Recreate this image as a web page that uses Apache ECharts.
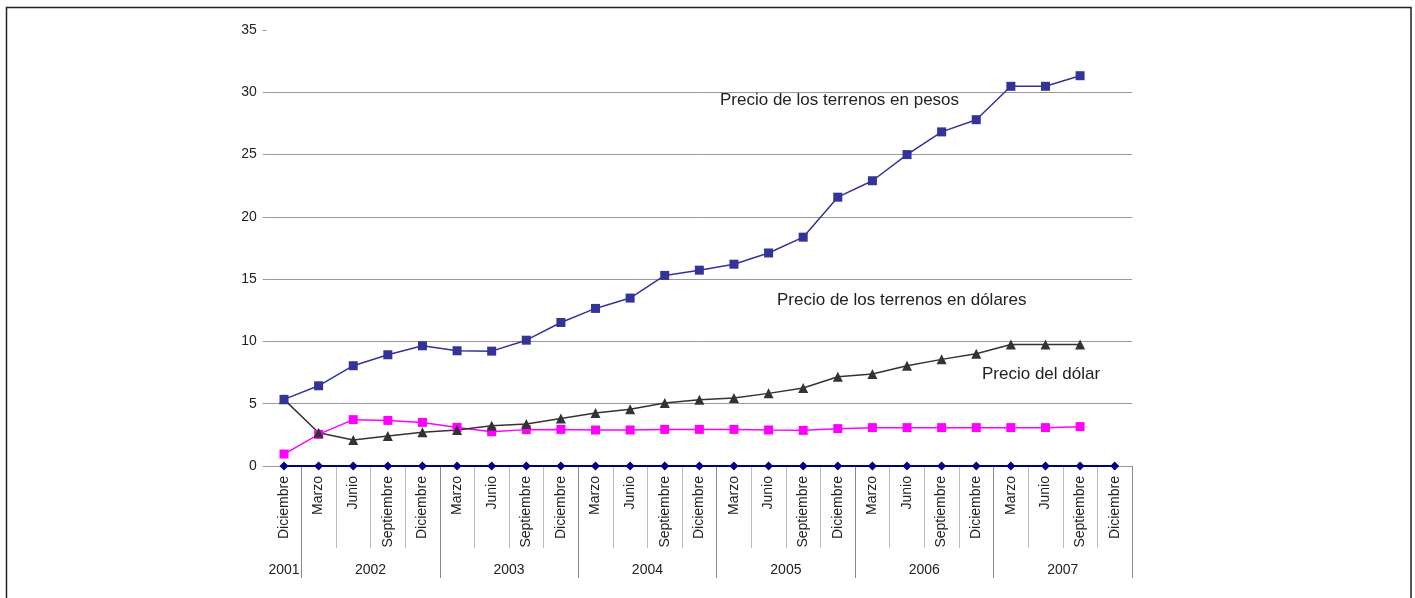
<!DOCTYPE html>
<html>
<head>
<meta charset="utf-8">
<script src="https://cdn.jsdelivr.net/npm/echarts@6/dist/echarts.min.js"></script>
<style>
  html, body { margin: 0; padding: 0; background: #fff; }
  #chart { width: 1415px; height: 598px; }
</style>
</head>
<body>
<div id="chart"></div>
<script>
// Trimestres (mes de cierre) de diciembre 2001 a diciembre 2007
const meses = [
  'Diciembre',
  'Marzo', 'Junio', 'Septiembre', 'Diciembre',
  'Marzo', 'Junio', 'Septiembre', 'Diciembre',
  'Marzo', 'Junio', 'Septiembre', 'Diciembre',
  'Marzo', 'Junio', 'Septiembre', 'Diciembre',
  'Marzo', 'Junio', 'Septiembre', 'Diciembre',
  'Marzo', 'Junio', 'Septiembre', 'Diciembre'
];
const anios = ['2001', '2002', '2003', '2004', '2005', '2006', '2007'];
const trimestresPorAnio = [1, 4, 4, 4, 4, 4, 4];
const marcasEjeY = [0, 5, 10, 15, 20, 25, 30, 35];

const precioTerrenosPesos = [
  5.35, 6.44, 8.05, 8.93, 9.65, 9.25, 9.22, 10.1, 11.52, 12.65, 13.48, 15.3,
  15.72, 16.2, 17.1, 18.37, 21.58, 22.9, 25.0, 26.82, 27.8, 30.48, 30.48, 31.33
];
const precioTerrenosDolares = [
  0.96, 2.54, 3.72, 3.66, 3.5, 3.1, 2.75, 2.92, 2.94, 2.89, 2.89, 2.94,
  2.94, 2.94, 2.89, 2.86, 3.0, 3.08, 3.08, 3.08, 3.08, 3.08, 3.08, 3.16
];
const precioDolar = [
  5.35, 2.67, 2.09, 2.41, 2.7, 2.89, 3.24, 3.37, 3.82, 4.25, 4.55, 5.05,
  5.32, 5.45, 5.83, 6.26, 7.17, 7.38, 8.05, 8.56, 9.01, 9.76, 9.76, 9.76
];
const lineaCero = [
  0, 0, 0, 0, 0, 0, 0, 0, 0, 0, 0, 0, 0, 0, 0, 0, 0, 0, 0, 0, 0, 0, 0, 0, 0
];

const etiquetas = [
  { texto: 'Precio de los terrenos en pesos', x: 720, y: 100.5 },
  { texto: 'Precio de los terrenos en dólares', x: 777, y: 300.5 },
  { texto: 'Precio del dólar', x: 982, y: 374 }
];

const fuente = '"Liberation Sans", Arial, Helvetica, sans-serif';

// Eje de años: medias posiciones de trimestre (2 por trimestre + 1)
const nMedios = meses.length * 2 + 1;
const ejeAnios = new Array(nMedios).fill('');
const limitesAnio = new Set();
let inicio = 0;
anios.forEach((a, k) => {
  const c = trimestresPorAnio[k];
  ejeAnios[2 * inicio + c] = a;
  limitesAnio.add(2 * (inicio + c));
  inicio += c;
});

const chart = echarts.init(document.getElementById('chart'), null, { renderer: 'canvas' });

chart.setOption({
  animation: false,
  backgroundColor: '#fff',
  textStyle: { fontFamily: fuente },
  grid: { left: 266.7, right: 283, top: 30, bottom: 132, containLabel: false },
  xAxis: [
    {
      type: 'category',
      data: meses,
      boundaryGap: true,
      position: 'bottom',
      axisLine: { show: true, lineStyle: { color: '#999', width: 1 } },
      axisTick: {
        show: true,
        length: 82,
        interval: (i) => i !== 0,
        lineStyle: { color: '#bbb', width: 1 }
      },
      axisLabel: {
        interval: 0,
        rotate: 90,
        margin: 10,
        fontSize: 14,
        color: '#222',
        fontFamily: fuente
      },
      splitLine: { show: false }
    },
    {
      type: 'category',
      data: ejeAnios,
      boundaryGap: false,
      position: 'bottom',
      offset: 0,
      axisLine: { show: false },
      axisTick: {
        show: true,
        length: 112,
        interval: (i) => limitesAnio.has(i),
        lineStyle: { color: '#8a8a8a', width: 1 }
      },
      axisLabel: {
        interval: (i, v) => v !== '',
        margin: 97,
        fontSize: 14,
        color: '#222',
        fontFamily: fuente
      },
      splitLine: { show: false }
    }
  ],
  yAxis: {
    type: 'value',
    min: marcasEjeY[0],
    max: marcasEjeY[marcasEjeY.length - 1],
    interval: 5,
    axisLine: { show: false },
    axisTick: { show: true, length: 4, lineStyle: { color: '#999' } },
    axisLabel: { margin: 10, fontSize: 14, color: '#222', fontFamily: fuente },
    splitLine: { show: true, showMaxLine: false, lineStyle: { color: '#999', width: 1 } }
  },
  series: [
    {
      name: 'Precio de los terrenos en dólares',
      type: 'line',
      data: precioTerrenosDolares,
      symbol: 'rect',
      symbolSize: 9,
      itemStyle: { color: '#ff00ff' },
      lineStyle: { color: '#ff00ff', width: 1.5 }
    },
    {
      name: 'Precio del dólar',
      type: 'line',
      data: precioDolar,
      symbol: 'triangle',
      symbolSize: 10,
      itemStyle: { color: '#333333' },
      lineStyle: { color: '#333333', width: 1.5 }
    },
    {
      name: 'Precio de los terrenos en pesos',
      type: 'line',
      data: precioTerrenosPesos,
      symbol: 'rect',
      symbolSize: 9,
      itemStyle: { color: '#333399' },
      lineStyle: { color: '#333399', width: 1.5 }
    },
    {
      name: 'Base',
      type: 'line',
      data: lineaCero,
      symbol: 'diamond',
      symbolSize: 9,
      itemStyle: { color: '#000080' },
      lineStyle: { color: '#000080', width: 1.8 }
    }
  ],
  graphic: [
    {
      type: 'rect',
      silent: true,
      shape: { x: 6.5, y: 7.5, width: 1404.5, height: 620 },
      style: { fill: 'none', stroke: '#222', lineWidth: 1.5 }
    }
  ].concat(etiquetas.map((e) => ({
    type: 'text',
    silent: true,
    x: e.x,
    y: e.y,
    style: {
      text: e.texto,
      font: '17px ' + fuente,
      fill: '#222',
      verticalAlign: 'middle',
      align: 'left'
    }
  })))
});
</script>
</body>
</html>
